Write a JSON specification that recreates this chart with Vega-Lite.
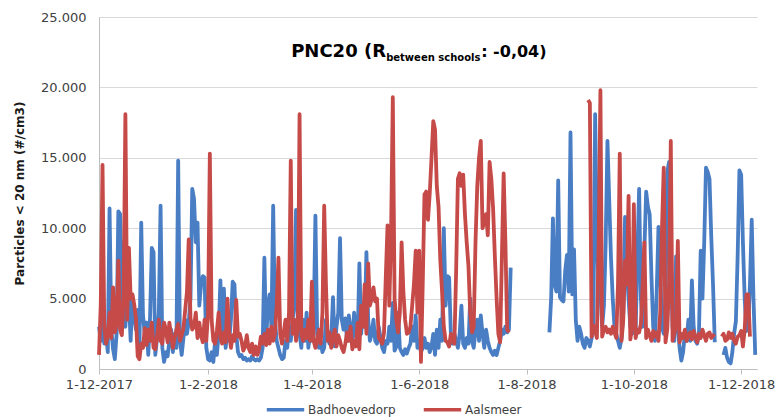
{
  "$schema": "https://vega.github.io/schema/vega-lite/v6.json",
  "autosize": "none",
  "width": 658,
  "height": 352,
  "padding": {"left": 99, "top": 17, "right": 18, "bottom": 50},
  "background": "white",
  "config": {
    "view": {"stroke": null},
    "font": "DejaVu Sans"
  },
  "data": {"values": [
{"d":"2017-12-01","b":3000,"a":1000},{"d":"2017-12-02","b":2000,"a":4600},{"d":"2017-12-03","b":4500,"a":14500},{"d":"2017-12-04","b":1800,"a":3000},{"d":"2017-12-05","b":2600,"a":1800},{"d":"2017-12-06","b":1200,"a":2400},{"d":"2017-12-07","b":11400,"a":4000},{"d":"2017-12-08","b":2800,"a":2200},{"d":"2017-12-09","b":1400,"a":5800},{"d":"2017-12-10","b":700,"a":2600},{"d":"2017-12-11","b":2500,"a":3200},{"d":"2017-12-12","b":11200,"a":7700},{"d":"2017-12-13","b":11000,"a":2800},{"d":"2017-12-14","b":4800,"a":2400},{"d":"2017-12-15","b":9000,"a":5200},{"d":"2017-12-16","b":3000,"a":18100},{"d":"2017-12-17","b":5600,"a":3500},{"d":"2017-12-18","b":4800,"a":8600},{"d":"2017-12-19","b":2000,"a":5000},{"d":"2017-12-20","b":5200,"a":5300},{"d":"2017-12-21","b":3800,"a":4600},{"d":"2017-12-22","b":2800,"a":3600},{"d":"2017-12-23","b":4200,"a":900},{"d":"2017-12-24","b":1600,"a":700},{"d":"2017-12-25","b":10400,"a":1800},{"d":"2017-12-26","b":3800,"a":1500},{"d":"2017-12-27","b":2500,"a":2900},{"d":"2017-12-28","b":3300,"a":1700},{"d":"2017-12-29","b":1000,"a":2800},{"d":"2017-12-30","b":3600,"a":2000},{"d":"2017-12-31","b":8600,"a":3300},
{"d":"2018-01-01","b":8300,"a":1500},{"d":"2018-01-02","b":1000,"a":1400},{"d":"2018-01-03","b":2200,"a":2300},{"d":"2018-01-04","b":4000,"a":3500},{"d":"2018-01-05","b":11600,"a":2000},{"d":"2018-01-06","b":1500,"a":1800},{"d":"2018-01-07","b":500,"a":3300},{"d":"2018-01-08","b":1200,"a":2800},{"d":"2018-01-09","b":900,"a":1900},{"d":"2018-01-10","b":2000,"a":3300},{"d":"2018-01-11","b":2800,"a":2400},{"d":"2018-01-12","b":1200,"a":1500},{"d":"2018-01-13","b":2500,"a":2200},{"d":"2018-01-14","b":1500,"a":2800},{"d":"2018-01-15","b":14800,"a":3200},{"d":"2018-01-16","b":2000,"a":2000},{"d":"2018-01-17","b":1000,"a":2400},{"d":"2018-01-18","b":2200,"a":2900},{"d":"2018-01-19","b":3500,"a":4200},{"d":"2018-01-20","b":2500,"a":5500},{"d":"2018-01-21","b":3300,"a":9200},{"d":"2018-01-22","b":5000,"a":3600},{"d":"2018-01-23","b":12800,"a":2800},{"d":"2018-01-24","b":12100,"a":3000},{"d":"2018-01-25","b":9000,"a":4000},{"d":"2018-01-26","b":10400,"a":2200},{"d":"2018-01-27","b":4500,"a":3300},{"d":"2018-01-28","b":6000,"a":2400},{"d":"2018-01-29","b":6600,"a":1900},{"d":"2018-01-30","b":6500,"a":3500},{"d":"2018-01-31","b":1500,"a":2000},
{"d":"2018-02-01","b":700,"a":4000},{"d":"2018-02-02","b":600,"a":15300},{"d":"2018-02-03","b":1200,"a":3500},{"d":"2018-02-04","b":500,"a":2000},{"d":"2018-02-05","b":2000,"a":1800},{"d":"2018-02-06","b":1000,"a":2700},{"d":"2018-02-07","b":2500,"a":4000},{"d":"2018-02-08","b":6300,"a":2200},{"d":"2018-02-09","b":2500,"a":1800},{"d":"2018-02-10","b":5700,"a":2600},{"d":"2018-02-11","b":1500,"a":1900},{"d":"2018-02-12","b":3000,"a":5000},{"d":"2018-02-13","b":2000,"a":2500},{"d":"2018-02-14","b":3500,"a":1500},{"d":"2018-02-15","b":6200,"a":2400},{"d":"2018-02-16","b":6000,"a":2000},{"d":"2018-02-17","b":2500,"a":4900},{"d":"2018-02-18","b":1200,"a":2300},{"d":"2018-02-19","b":900,"a":2500},{"d":"2018-02-20","b":1000,"a":2000},{"d":"2018-02-21","b":700,"a":1300},{"d":"2018-02-22","b":800,"a":1600},{"d":"2018-02-23","b":600,"a":2400},{"d":"2018-02-24","b":700,"a":1500},{"d":"2018-02-25","b":600,"a":1200},{"d":"2018-02-26","b":900,"a":1800},{"d":"2018-02-27","b":700,"a":1000},{"d":"2018-02-28","b":600,"a":1600},
{"d":"2018-03-01","b":700,"a":1000},{"d":"2018-03-02","b":600,"a":1400},{"d":"2018-03-03","b":800,"a":2300},{"d":"2018-03-04","b":1500,"a":1800},{"d":"2018-03-05","b":7900,"a":2500},{"d":"2018-03-06","b":2000,"a":1700},{"d":"2018-03-07","b":4500,"a":2800},{"d":"2018-03-08","b":5300,"a":1800},{"d":"2018-03-09","b":3000,"a":3000},{"d":"2018-03-10","b":11600,"a":2000},{"d":"2018-03-11","b":3500,"a":2500},{"d":"2018-03-12","b":2000,"a":4500},{"d":"2018-03-13","b":1500,"a":7900},{"d":"2018-03-14","b":1000,"a":2500},{"d":"2018-03-15","b":700,"a":1800},{"d":"2018-03-16","b":800,"a":2600},{"d":"2018-03-17","b":2000,"a":3500},{"d":"2018-03-18","b":1500,"a":2000},{"d":"2018-03-19","b":3000,"a":4000},{"d":"2018-03-20","b":2000,"a":14800},{"d":"2018-03-21","b":3500,"a":2500},{"d":"2018-03-22","b":4500,"a":3500},{"d":"2018-03-23","b":11300,"a":2000},{"d":"2018-03-24","b":3000,"a":3000},{"d":"2018-03-25","b":2500,"a":18100},{"d":"2018-03-26","b":1500,"a":2500},{"d":"2018-03-27","b":3500,"a":2000},{"d":"2018-03-28","b":2000,"a":2800},{"d":"2018-03-29","b":4000,"a":2200},{"d":"2018-03-30","b":1500,"a":3500},{"d":"2018-03-31","b":2500,"a":2000},
{"d":"2018-04-01","b":2000,"a":6200},{"d":"2018-04-02","b":3000,"a":2000},{"d":"2018-04-03","b":10900,"a":1500},{"d":"2018-04-04","b":2500,"a":2000},{"d":"2018-04-05","b":1500,"a":2800},{"d":"2018-04-06","b":2000,"a":1800},{"d":"2018-04-07","b":1200,"a":4000},{"d":"2018-04-08","b":1500,"a":11600},{"d":"2018-04-09","b":3500,"a":6000},{"d":"2018-04-10","b":2500,"a":2000},{"d":"2018-04-11","b":1800,"a":2600},{"d":"2018-04-12","b":2200,"a":1500},{"d":"2018-04-13","b":5100,"a":2200},{"d":"2018-04-14","b":1600,"a":2800},{"d":"2018-04-15","b":3000,"a":1600},{"d":"2018-04-16","b":4000,"a":2400},{"d":"2018-04-17","b":9300,"a":2000},{"d":"2018-04-18","b":3500,"a":1500},{"d":"2018-04-19","b":2800,"a":1200},{"d":"2018-04-20","b":3600,"a":1800},{"d":"2018-04-21","b":2000,"a":2600},{"d":"2018-04-22","b":3800,"a":2000},{"d":"2018-04-23","b":2800,"a":3000},{"d":"2018-04-24","b":1800,"a":1400},{"d":"2018-04-25","b":4000,"a":2000},{"d":"2018-04-26","b":2500,"a":1600},{"d":"2018-04-27","b":2000,"a":3300},{"d":"2018-04-28","b":7500,"a":1400},{"d":"2018-04-29","b":2500,"a":4500},{"d":"2018-04-30","b":4000,"a":3000},
{"d":"2018-05-01","b":3000,"a":6000},{"d":"2018-05-02","b":8300,"a":2500},{"d":"2018-05-03","b":3500,"a":7500},{"d":"2018-05-04","b":2000,"a":4500},{"d":"2018-05-05","b":2500,"a":5000},{"d":"2018-05-06","b":3500,"a":5800},{"d":"2018-05-07","b":2000,"a":4800},{"d":"2018-05-08","b":1800,"a":5000},{"d":"2018-05-09","b":3000,"a":2200},{"d":"2018-05-10","b":2200,"a":2000},{"d":"2018-05-11","b":1500,"a":1800},{"d":"2018-05-12","b":1200,"a":2600},{"d":"2018-05-13","b":2000,"a":6500},{"d":"2018-05-14","b":1800,"a":10200},{"d":"2018-05-15","b":3000,"a":4500},{"d":"2018-05-16","b":2000,"a":9500},{"d":"2018-05-17","b":4700,"a":19300},{"d":"2018-05-18","b":1300,"a":5000},{"d":"2018-05-19","b":1600,"a":3500},{"d":"2018-05-20","b":4000,"a":2600},{"d":"2018-05-21","b":1500,"a":4000},{"d":"2018-05-22","b":1200,"a":9000},{"d":"2018-05-23","b":1000,"a":5500},{"d":"2018-05-24","b":1400,"a":3500},{"d":"2018-05-25","b":1100,"a":2500},{"d":"2018-05-26","b":1500,"a":2600},{"d":"2018-05-27","b":1800,"a":3000},{"d":"2018-05-28","b":3000,"a":4500},{"d":"2018-05-29","b":2000,"a":6000},{"d":"2018-05-30","b":3800,"a":8400},{"d":"2018-05-31","b":1500,"a":4000},
{"d":"2018-06-01","b":2000,"a":8400},{"d":"2018-06-02","b":1200,"a":500},{"d":"2018-06-03","b":1500,"a":6000},{"d":"2018-06-04","b":2200,"a":12400},{"d":"2018-06-05","b":1500,"a":12600},{"d":"2018-06-06","b":1800,"a":10600},{"d":"2018-06-07","b":1200,"a":12500},{"d":"2018-06-08","b":1600,"a":15000},{"d":"2018-06-09","b":2500,"a":17600},{"d":"2018-06-10","b":1000,"a":17000},{"d":"2018-06-11","b":2800,"a":13000},{"d":"2018-06-12","b":1500,"a":11500},{"d":"2018-06-13","b":3500,"a":7700},{"d":"2018-06-14","b":2000,"a":5500},{"d":"2018-06-15","b":10000,"a":3000},{"d":"2018-06-16","b":4500,"a":2000},{"d":"2018-06-17","b":6600,"a":1900},{"d":"2018-06-18","b":6500,"a":1600},{"d":"2018-06-19","b":2500,"a":2500},{"d":"2018-06-20","b":1800,"a":2000},{"d":"2018-06-21","b":2500,"a":1800},{"d":"2018-06-22","b":2000,"a":7000},{"d":"2018-06-23","b":1500,"a":13500},{"d":"2018-06-24","b":2500,"a":13900},{"d":"2018-06-25","b":4500,"a":13000},{"d":"2018-06-26","b":1800,"a":13800},{"d":"2018-06-27","b":1500,"a":11000},{"d":"2018-06-28","b":2200,"a":9000},{"d":"2018-06-29","b":1800,"a":7300},{"d":"2018-06-30","b":5000,"a":4000},
{"d":"2018-07-01","b":2000,"a":2600},{"d":"2018-07-02","b":1500,"a":3000},{"d":"2018-07-03","b":2800,"a":9000},{"d":"2018-07-04","b":3500,"a":13000},{"d":"2018-07-05","b":2000,"a":15000},{"d":"2018-07-06","b":3800,"a":16200},{"d":"2018-07-07","b":2500,"a":10000},{"d":"2018-07-08","b":1500,"a":10500},{"d":"2018-07-09","b":2800,"a":11000},{"d":"2018-07-10","b":2000,"a":9500},{"d":"2018-07-11","b":1500,"a":14700},{"d":"2018-07-12","b":1200,"a":13500},{"d":"2018-07-13","b":1000,"a":11400},{"d":"2018-07-14","b":1300,"a":8000},{"d":"2018-07-15","b":1000,"a":5000},{"d":"2018-07-16","b":1500,"a":2500},{"d":"2018-07-17","b":2000,"a":1900},{"d":"2018-07-18","b":2800,"a":8000},{"d":"2018-07-19","b":2500,"a":13900},{"d":"2018-07-20","b":3000,"a":9000},{"d":"2018-07-21","b":2600,"a":2800},{"d":"2018-07-22","b":2800,"a":2600},{"d":"2018-07-23","b":7200,"a":null},{"d":"2018-07-24","b":null,"a":null},
{"d":"2018-08-14","b":2600,"a":null},{"d":"2018-08-15","b":5000,"a":null},{"d":"2018-08-16","b":10700,"a":null},{"d":"2018-08-17","b":6000,"a":null},{"d":"2018-08-18","b":5500,"a":null},{"d":"2018-08-19","b":13400,"a":null},{"d":"2018-08-20","b":5100,"a":null},{"d":"2018-08-21","b":4900,"a":null},{"d":"2018-08-22","b":4800,"a":null},{"d":"2018-08-23","b":7000,"a":null},{"d":"2018-08-24","b":8100,"a":null},{"d":"2018-08-25","b":5500,"a":null},{"d":"2018-08-26","b":16800,"a":null},{"d":"2018-08-27","b":5300,"a":null},{"d":"2018-08-28","b":8500,"a":null},{"d":"2018-08-29","b":3500,"a":null},{"d":"2018-08-30","b":2000,"a":null},{"d":"2018-08-31","b":3000,"a":null},
{"d":"2018-09-01","b":2500,"a":null},{"d":"2018-09-02","b":1800,"a":null},{"d":"2018-09-03","b":1500,"a":null},{"d":"2018-09-04","b":2200,"a":null},{"d":"2018-09-05","b":2000,"a":19100},{"d":"2018-09-06","b":1600,"a":18900},{"d":"2018-09-07","b":2200,"a":2300},{"d":"2018-09-08","b":3000,"a":3100},{"d":"2018-09-09","b":18100,"a":2700},{"d":"2018-09-10","b":9100,"a":2200},{"d":"2018-09-11","b":6000,"a":9000},{"d":"2018-09-12","b":5400,"a":19800},{"d":"2018-09-13","b":3000,"a":2300},{"d":"2018-09-14","b":4500,"a":2800},{"d":"2018-09-15","b":9000,"a":3000},{"d":"2018-09-16","b":16200,"a":2600},{"d":"2018-09-17","b":12000,"a":2800},{"d":"2018-09-18","b":7900,"a":2500},{"d":"2018-09-19","b":5000,"a":3000},{"d":"2018-09-20","b":3000,"a":2600},{"d":"2018-09-21","b":2500,"a":2200},{"d":"2018-09-22","b":2000,"a":6000},{"d":"2018-09-23","b":1500,"a":15300},{"d":"2018-09-24","b":2200,"a":2000},{"d":"2018-09-25","b":4000,"a":3500},{"d":"2018-09-26","b":10800,"a":7700},{"d":"2018-09-27","b":7000,"a":6000},{"d":"2018-09-28","b":5000,"a":12300},{"d":"2018-09-29","b":3000,"a":2100},{"d":"2018-09-30","b":2500,"a":3000},
{"d":"2018-10-01","b":3500,"a":11700},{"d":"2018-10-02","b":2500,"a":2200},{"d":"2018-10-03","b":8000,"a":2800},{"d":"2018-10-04","b":12800,"a":2600},{"d":"2018-10-05","b":5000,"a":3200},{"d":"2018-10-06","b":3000,"a":6000},{"d":"2018-10-07","b":8500,"a":9000},{"d":"2018-10-08","b":12600,"a":2200},{"d":"2018-10-09","b":11500,"a":2800},{"d":"2018-10-10","b":11000,"a":2400},{"d":"2018-10-11","b":6600,"a":2000},{"d":"2018-10-12","b":3000,"a":2700},{"d":"2018-10-13","b":2000,"a":2300},{"d":"2018-10-14","b":5500,"a":2600},{"d":"2018-10-15","b":10100,"a":2000},{"d":"2018-10-16","b":7000,"a":4000},{"d":"2018-10-17","b":3000,"a":10000},{"d":"2018-10-18","b":2500,"a":14300},{"d":"2018-10-19","b":5000,"a":1900},{"d":"2018-10-20","b":14000,"a":2800},{"d":"2018-10-21","b":14700,"a":6000},{"d":"2018-10-22","b":8000,"a":16200},{"d":"2018-10-23","b":3000,"a":2000},{"d":"2018-10-24","b":2000,"a":2500},{"d":"2018-10-25","b":8000,"a":3000},{"d":"2018-10-26","b":3000,"a":9100},{"d":"2018-10-27","b":1500,"a":1900},{"d":"2018-10-28","b":600,"a":2500},{"d":"2018-10-29","b":1200,"a":2200},{"d":"2018-10-30","b":2500,"a":2800},{"d":"2018-10-31","b":2000,"a":2000},
{"d":"2018-11-01","b":3500,"a":2400},{"d":"2018-11-02","b":2000,"a":2600},{"d":"2018-11-03","b":6300,"a":2100},{"d":"2018-11-04","b":3000,"a":2700},{"d":"2018-11-05","b":2000,"a":2300},{"d":"2018-11-06","b":1800,"a":1900},{"d":"2018-11-07","b":2500,"a":2500},{"d":"2018-11-08","b":8400,"a":2200},{"d":"2018-11-09","b":5000,"a":2800},{"d":"2018-11-10","b":9000,"a":2400},{"d":"2018-11-11","b":14300,"a":2000},{"d":"2018-11-12","b":14000,"a":2500},{"d":"2018-11-13","b":13500,"a":2600},{"d":"2018-11-14","b":9400,"a":2200},{"d":"2018-11-15","b":6000,"a":2400},{"d":"2018-11-16","b":1900,"a":2300},{"d":"2018-11-17","b":null,"a":null},{"d":"2018-11-20","b":null,"a":2300},{"d":"2018-11-21","b":1000,"a":2500},{"d":"2018-11-22","b":1500,"a":2000},{"d":"2018-11-23","b":800,"a":2100},{"d":"2018-11-24","b":500,"a":2600},{"d":"2018-11-25","b":400,"a":2200},{"d":"2018-11-26","b":1200,"a":2500},{"d":"2018-11-27","b":2500,"a":2000},{"d":"2018-11-28","b":3400,"a":1800},{"d":"2018-11-29","b":8000,"a":2300},{"d":"2018-11-30","b":14100,"a":2400},
{"d":"2018-12-01","b":13800,"a":2700},{"d":"2018-12-02","b":9000,"a":1600},{"d":"2018-12-03","b":5000,"a":2800},{"d":"2018-12-04","b":2700,"a":5300},{"d":"2018-12-05","b":3000,"a":5300},{"d":"2018-12-06","b":6000,"a":2300},{"d":"2018-12-07","b":10600,"a":null},{"d":"2018-12-08","b":5000,"a":null},{"d":"2018-12-09","b":1000,"a":null}
  ]},
  "layer": [
    {
      "mark": {"type": "line", "strokeWidth": 3.8, "strokeJoin": "round", "invalid": "break-paths-filter-domains"},
      "encoding": {
        "x": {
          "field": "d", "type": "temporal",
          "scale": {"domain": [{"year": 2017, "month": 12, "date": 1}, {"year": 2018, "month": 12, "date": 10}]},
          "axis": {
            "title": null,
            "values": [
              {"year": 2017, "month": 12, "date": 1},
              {"year": 2018, "month": 2, "date": 1},
              {"year": 2018, "month": 4, "date": 1},
              {"year": 2018, "month": 6, "date": 1},
              {"year": 2018, "month": 8, "date": 1},
              {"year": 2018, "month": 10, "date": 1},
              {"year": 2018, "month": 12, "date": 1}
            ],
            "format": "%-d-%-m-%Y",
            "grid": false,
            "domainColor": "#bfbfbf",
            "tickColor": "#bfbfbf",
            "tickSize": 5,
            "labelFontSize": 13,
            "labelColor": "#404040",
            "labelPadding": 4,
            "labelOverlap": false,
            "labelFlush": false
          }
        },
        "y": {
          "field": "b", "type": "quantitative",
          "scale": {"domain": [0, 25000], "nice": false},
          "axis": {
            "title": "Parcticles < 20 nm (#/cm3)",
            "titleFontSize": 12,
            "titleFontWeight": "bold",
            "titleColor": "#1a1a1a",
            "titlePadding": 14,
            "values": [0, 5000, 10000, 15000, 20000, 25000],
            "labelExpr": "replace(format(datum.value, ','), ',', '.')",
            "grid": true,
            "gridColor": "#d9d9d9",
            "domainColor": "#bfbfbf",
            "ticks": false,
            "labelPadding": 13,
            "labelFontSize": 13,
            "labelColor": "#404040"
          }
        },
        "color": {
          "datum": "Badhoevedorp",
          "scale": {"domain": ["Badhoevedorp", "Aalsmeer"], "range": ["#4a7ec4", "#c54a48"]},
          "legend": {
            "title": null,
            "orient": "none",
            "legendX": 166,
            "legendY": 372,
            "direction": "horizontal",
            "symbolType": "stroke",
            "symbolSize": 1400,
            "symbolStrokeWidth": 3.5,
            "labelFontSize": 12,
            "labelColor": "#404040",
            "labelOffset": 2,
            "columnPadding": 20
          }
        }
      }
    },
    {
      "mark": {"type": "line", "strokeWidth": 3.8, "strokeJoin": "round", "invalid": "break-paths-filter-domains"},
      "encoding": {
        "x": {"field": "d", "type": "temporal", "title": null},
        "y": {"field": "a", "type": "quantitative", "title": "Parcticles < 20 nm (#/cm3)"},
        "color": {"datum": "Aalsmeer"}
      }
    },
    {
      "data": {"values": [{}]},
      "mark": {"type": "text", "text": "PNC20 (R", "fontSize": 18, "fontWeight": "bold", "font": "DejaVu Sans", "color": "#000000", "align": "left", "baseline": "alphabetic"},
      "encoding": {
        "x": {"datum": {"year": 2018, "month": 3, "date": 20, "hours": 5}, "type": "temporal"},
        "y": {"datum": 22150, "type": "quantitative"}
      }
    },
    {
      "data": {"values": [{}]},
      "mark": {"type": "text", "text": "between schools", "fontSize": 10, "fontWeight": "bold", "font": "DejaVu Sans", "color": "#000000", "align": "left", "baseline": "alphabetic"},
      "encoding": {
        "x": {"datum": {"year": 2018, "month": 5, "date": 13, "hours": 5}, "type": "temporal"},
        "y": {"datum": 21850, "type": "quantitative"}
      }
    },
    {
      "data": {"values": [{}]},
      "mark": {"type": "text", "text": ": -0,04)", "fontSize": 16, "fontWeight": "bold", "font": "DejaVu Sans", "color": "#000000", "align": "left", "baseline": "alphabetic"},
      "encoding": {
        "x": {"datum": {"year": 2018, "month": 7, "date": 6, "hours": 5}, "type": "temporal"},
        "y": {"datum": 22150, "type": "quantitative"}
      }
    }
  ]
}
